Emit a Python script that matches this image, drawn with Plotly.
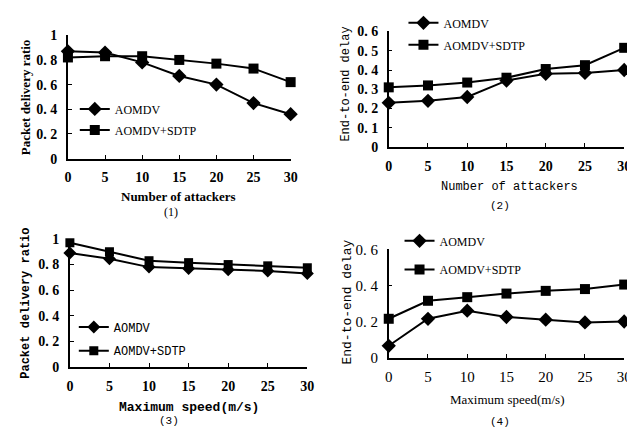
import plotly.graph_objects as go

W, H = 635, 434

# ---------------- data ----------------
attackers = [0, 5, 10, 15, 20, 25, 30]
speeds = [0, 5, 10, 15, 20, 25, 30]

pdr_att_aomdv = [0.87, 0.86, 0.78, 0.67, 0.60, 0.45, 0.36]
pdr_att_sdtp = [0.82, 0.83, 0.83, 0.80, 0.77, 0.73, 0.62]

delay_att_aomdv = [0.23, 0.24, 0.26, 0.345, 0.38, 0.385, 0.40]
delay_att_sdtp = [0.31, 0.32, 0.335, 0.36, 0.405, 0.425, 0.515]

pdr_spd_aomdv = [0.89, 0.845, 0.78, 0.77, 0.76, 0.75, 0.73]
pdr_spd_sdtp = [0.97, 0.90, 0.83, 0.815, 0.80, 0.79, 0.775]

delay_spd_aomdv = [0.065, 0.215, 0.26, 0.225, 0.21, 0.195, 0.20]
delay_spd_sdtp = [0.215, 0.315, 0.335, 0.355, 0.37, 0.38, 0.405]

x_ticks = [0, 5, 10, 15, 20, 25, 30]
pdr_tickvals = [0, 0.2, 0.4, 0.6, 0.8, 1]
pdr_ticktext = ["0", "0. 2", "0. 4", "0. 6", "0. 8", "1"]
d1_tickvals = [0, 0.1, 0.2, 0.3, 0.4, 0.5, 0.6]
d1_ticktext = ["0", "0. 1", "0. 2", "0. 3", "0. 4", "0. 5", "0. 6"]
d2_tickvals = [0, 0.2, 0.4, 0.6]
d2_ticktext = ["0", "0. 2", "0. 4", "0. 6"]

series_names = ["AOMDV", "AOMDV+SDTP"]

SERIF = "Liberation Serif, Times New Roman, serif"
MONO = "Liberation Mono, DejaVu Sans Mono, monospace"


def px_x(p):
    return p / W


def px_y(p):
    return 1 - p / H


fig = go.Figure()

panels = [
    dict(ax="", x=attackers, a=pdr_att_aomdv, s=pdr_att_sdtp, font=SERIF, fs=12,
         lx=64, ly=(94, 116), ms=(11, 11)),
    dict(ax="2", x=attackers, a=delay_att_aomdv, s=delay_att_sdtp, font=SERIF, fs=12,
         lx=399, ly=(4, 27), ms=(11, 11)),
    dict(ax="3", x=speeds, a=pdr_spd_aomdv, s=pdr_spd_sdtp, font=MONO, fs=12,
         lx=63, ly=(322, 347), ms=(10, 10)),
    dict(ax="4", x=speeds, a=delay_spd_aomdv, s=delay_spd_sdtp, font=SERIF, fs=12,
         lx=395, ly=(232, 262), ms=(11, 11)),
]

leg_idx = 1
layout_legends = {}
for p in panels:
    for k, (vals, sym) in enumerate([(p["a"], "diamond"), (p["s"], "square")]):
        lname = "legend" if leg_idx == 1 else f"legend{leg_idx}"
        fig.add_trace(go.Scatter(
            x=p["x"], y=vals, name=series_names[k],
            mode="lines+markers",
            line=dict(color="black", width=2),
            marker=dict(symbol=sym, size=p["ms"][k] if sym == "diamond" else p["ms"][k] - 1,
                        color="black"),
            xaxis="x" + p["ax"], yaxis="y" + p["ax"],
            legend=lname, cliponaxis=False, showlegend=True,
        ))
        layout_legends[lname] = dict(
            x=px_x(p["lx"]), xanchor="left",
            y=px_y(p["ly"][k]), yanchor="middle",
            bgcolor="rgba(0,0,0,0)", borderwidth=0,
            font=dict(family=p["font"], size=p["fs"], color="black"),
            itemwidth=30, visible=True,
        )
        leg_idx += 1

axis_common = dict(
    showline=True, linecolor="black", linewidth=1.5, mirror=False,
    showgrid=False, zeroline=False,
    ticks="inside", ticklen=4, tickcolor="black", tickwidth=1,
)

tickfont_b = dict(family=SERIF, size=14, color="black", weight="bold")

lay = dict(
    width=W, height=H, margin=dict(l=0, r=0, t=0, b=0),
    paper_bgcolor="white", plot_bgcolor="white", showlegend=True,
    xaxis=dict(domain=[px_x(57), px_x(284)], range=[0, 30], tickvals=x_ticks,
               tickfont=tickfont_b, anchor="y", ticklabelstandoff=5, **axis_common),
    yaxis=dict(domain=[px_y(146), px_y(17)], range=[0, 1], tickvals=pdr_tickvals,
               ticktext=pdr_ticktext, tickfont=tickfont_b, anchor="x",
               ticklabelstandoff=6, **axis_common),
    xaxis2=dict(domain=[px_x(384), px_x(624)], range=[0, 30], tickvals=x_ticks,
                tickfont=tickfont_b, anchor="y2", ticklabelstandoff=5, **axis_common),
    yaxis2=dict(domain=[px_y(134), px_y(13)], range=[0, 0.6], tickvals=d1_tickvals,
                ticktext=d1_ticktext, tickfont=tickfont_b, anchor="x2",
                ticklabelstandoff=6, **axis_common),
    xaxis3=dict(domain=[px_x(59), px_x(301)], range=[0, 30], tickvals=x_ticks,
                tickfont=tickfont_b, anchor="y3", ticklabelstandoff=5, **axis_common),
    yaxis3=dict(domain=[px_y(364), px_y(230)], range=[0, 1], tickvals=pdr_tickvals,
                ticktext=pdr_ticktext, tickfont=tickfont_b, anchor="x3",
                ticklabelstandoff=6, **axis_common),
    xaxis4=dict(domain=[px_x(384), px_x(624)], range=[0, 30], tickvals=x_ticks,
                tickfont=dict(family=SERIF, size=15, color="black"), anchor="y4",
                ticklabelstandoff=5, **axis_common),
    yaxis4=dict(domain=[px_y(354), px_y(241)], range=[0, 0.6], tickvals=d2_tickvals,
                ticktext=d2_ticktext, tickfont=dict(family=SERIF, size=15, color="black"),
                anchor="x4", ticklabelstandoff=6, **axis_common),
)
lay.update(layout_legends)
fig.update_layout(**lay)


def ann(text, x, y, font, size, angle=0, bold=False):
    fig.add_annotation(
        text=text, x=px_x(x), y=px_y(y), xref="paper", yref="paper",
        showarrow=False, textangle=angle, xanchor="center", yanchor="middle",
        font=dict(family=font, size=size, color="black", weight="bold" if bold else "normal"),
    )


# axis titles and captions
ann("Packet delivery ratio", 14, 82, SERIF, 13, -90, True)
ann("Number of attackers", 170, 186, SERIF, 13, 0, True)
ann("(1)", 162, 202, SERIF, 12)

ann("End-to-end delay", 340, 68, MONO, 12, -90)
ann("Number of attackers", 507, 176, MONO, 12)
ann("(2)", 497, 196, MONO, 11)

ann("Packet delivery ratio", 14, 297, MONO, 12, -90, True)
ann("Maximum speed(m/s)", 180, 406, MONO, 13, 0, True)
ann("(3)", 160, 420, MONO, 11)

ann("End-to-end delay", 342, 296, MONO, 13, -90)
ann("Maximum speed(m/s)", 505, 398, SERIF, 13)
ann("(4)", 497, 421, MONO, 11)

fig.write_html("out.html")
